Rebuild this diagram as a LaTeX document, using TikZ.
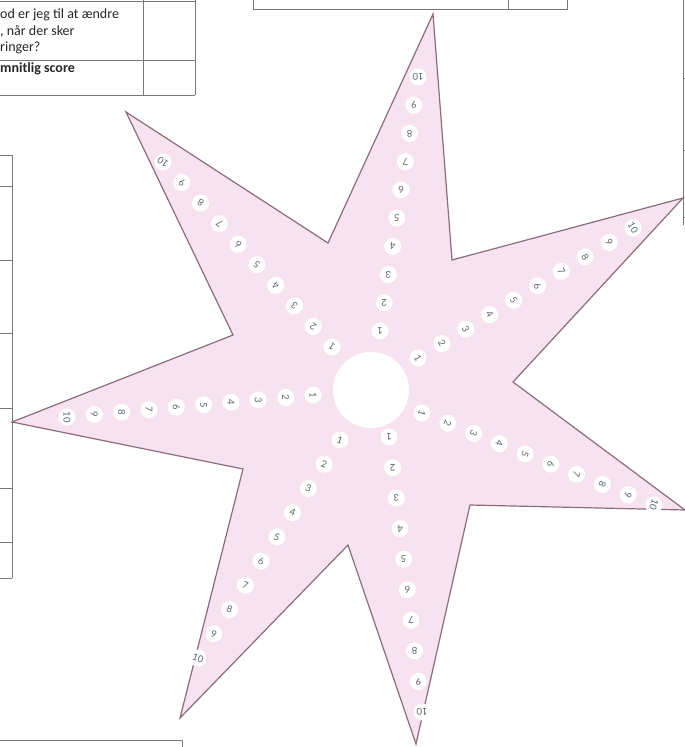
\documentclass[tikz,border=0pt]{standalone}
\usepackage{fontspec}
\setmainfont{Carlito}
\newfontfamily\numfont{Lato}
\usetikzlibrary{calc}
\definecolor{starfill}{RGB}{246,227,239}
\definecolor{starline}{RGB}{140,108,124}
\definecolor{numcol}{RGB}{90,100,112}
\definecolor{tabline}{RGB}{120,120,120}
\begin{document}
\begin{tikzpicture}[x=1pt,y=-1pt,
  starshape/.style={fill=starfill, draw=starline, line width=1.2pt, line join=miter},
  numdot/.style={circle, fill=white, inner sep=0pt, minimum size=17pt, text=numcol, font=\numfont\fontsize{9.5}{10}\selectfont},
  hubdisc/.style={circle, fill=white, minimum size=76pt, inner sep=0pt},
  tabrule/.style={draw=tabline, line width=0.9pt},
  tabtext/.style={anchor=west, inner sep=0pt, font=\fontsize{14}{16}\selectfont, text=black!85}
]
\useasboundingbox (0,0) rectangle (685,747);
\fill[white] (0,0) rectangle (685,747);

% ---- partial tables at the edges ----
\draw[tabrule] (0,1) -- (195,1);
\draw[tabrule] (0,60) -- (195,60);
\draw[tabrule] (0,95) -- (195,95);
\draw[tabrule] (143,0) -- (143,95);
\draw[tabrule] (195,0) -- (195,95);
\node[tabtext] (q1) at (0,15) {od er jeg til at ændre};
\node[tabtext] (q2) at (0,31.5) {, når der sker};
\node[tabtext] (q3) at (0,48) {ringer?};
\node[tabtext, font=\bfseries\fontsize{14}{16}\selectfont] (q4) at (0,69) {mnitlig score};

\draw[tabrule] (253,0) -- (253,9) -- (567,9) -- (567,0);
\draw[tabrule] (508,0) -- (508,9);

\draw[tabrule] (683,0) -- (683,225);
\foreach \yy in {78,150,217} \draw[tabrule] (683,\yy) -- (685,\yy);

\draw[tabrule] (12,155) -- (12,578);
\foreach \yy in {155,186,260,333,408,488,542,578} \draw[tabrule] (0,\yy) -- (12,\yy);

\draw[tabrule] (0,740) -- (182,740) -- (182,747);

% ---- star ----
\coordinate (C) at (371,390);
\coordinate (t1) at (433,14);
\coordinate (t2) at (683,198);
\coordinate (t3) at (685,510);
\coordinate (t4) at (416,744);
\coordinate (t5) at (180,718);
\coordinate (t6) at (12,422);
\coordinate (t7) at (126,112);
\coordinate (i1) at (452,260);
\coordinate (i2) at (513,382);
\coordinate (i3) at (470,505);
\coordinate (i4) at (348,545);
\coordinate (i5) at (243,469);
\coordinate (i6) at (233,335);
\coordinate (i7) at (328,243);
\draw[starshape] (t1) -- (i1) -- (t2) -- (i2) -- (t3) -- (i3) -- (t4) -- (i4) -- (t5) -- (i5) -- (t6) -- (i6) -- (t7) -- (i7) -- cycle;

\node[hubdisc] (hub) at (C) {};

% first and last number position of each arm
\coordinate (f1) at (380,331);  \coordinate (l1) at (418,77);
\coordinate (f2) at (418,358);  \coordinate (l2) at (633,228);
\coordinate (f3) at (422,413);  \coordinate (l3) at (654,505);
\coordinate (f4) at (389,437);  \coordinate (l4) at (422,712);
\coordinate (f5) at (340,440);  \coordinate (l5) at (198,658);
\coordinate (f6) at (313,395);  \coordinate (l6) at (67,417);
\coordinate (f7) at (332,347);  \coordinate (l7) at (163,162);

\foreach \a/\r in {1/180, 2/-60, 3/-110, 4/180, 5/-20, 6/-90, 7/145} {
  \foreach \k in {1,...,10} {
    \pgfmathsetmacro\ff{(\k-1)/9}
    \node[numdot, rotate=\r] (n\a-\k) at ($(f\a)!\ff!(l\a)$) {\k};
  }
}
\end{tikzpicture}
\end{document}
